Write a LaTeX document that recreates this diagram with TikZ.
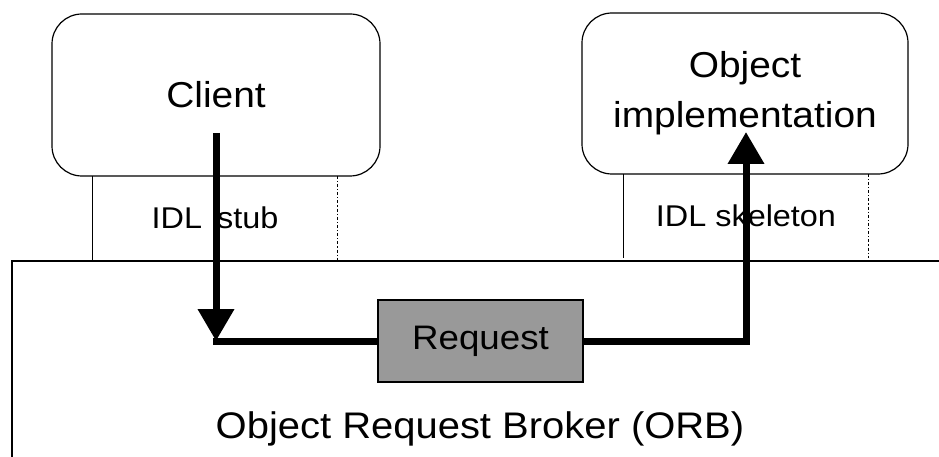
\documentclass[tikz,border=0pt]{standalone}
\usepackage{fontspec}
\setmainfont[FakeStretch=1.08]{Liberation Sans}
\usetikzlibrary{arrows.meta}

\tikzset{
  thinline/.style={line width=1.2pt},
  appbox/.style={draw, thinline, rounded corners=30pt, align=center, font=\fontsize{36}{50}\selectfont},
  idlbox/.style={minimum width=244pt, minimum height=84pt, inner sep=0pt, font=\fontsize{30}{36}\selectfont},
  flow/.style={line width=7pt},
  flowtip/.style={-{Triangle[width=35pt,length=32pt]}},
}

\begin{document}
\begin{tikzpicture}[x=1pt, y=-1pt]
		\useasboundingbox (0,0) rectangle (939,457);
		
		% --- Client side ---
		\node[appbox, minimum width=328pt, minimum height=162pt] (client) at (216,95) {Client};
		\node[idlbox] (stub) at (215,218) {IDL\enspace stub};
		\draw[thinline] (stub.north west) -- (stub.south west);
		\draw[thinline, dash dot] (stub.north east) -- (stub.south east);
		
		% --- Server side ---
		\node[appbox, minimum width=326pt, minimum height=161pt] (impl) at (745,93.5) {Object\\implementation};
		\node[idlbox] (skel) at (746,216) {IDL skeleton};
		\draw[thinline] (skel.north west) -- (skel.south west);
		\draw[thinline, dash dot] (skel.north east) -- (skel.south east);
		
		% --- ORB ---
		\coordinate (orbtr) at (939,261);
		\coordinate (orbtl) at (12,261);
		\coordinate (orbbl) at (12,457);
		\draw[thinline] (orbtr) -- (orbtl) -- (orbbl);
		\node[draw, thinline, fill=black!40, minimum width=205pt, minimum height=82pt, font=\fontsize{34}{40}\selectfont] (req) at (480.5,341) {Request};
		\node[font=\fontsize{37}{44}\selectfont] (orb) at (480,429) {Object Request Broker (ORB)};
		
		% Request path
		\coordinate (cl) at (216,133);
		\coordinate (ir) at (746,132);
		\draw[flow, flowtip] (cl) -- (cl |- req.west);
		\draw[flow] (req.west) -- ([xshift=-3.5pt]cl |- req.west);
		\draw[flow, flowtip] (req.east) -| (ir);
		
	\end{tikzpicture}
\end{document}
